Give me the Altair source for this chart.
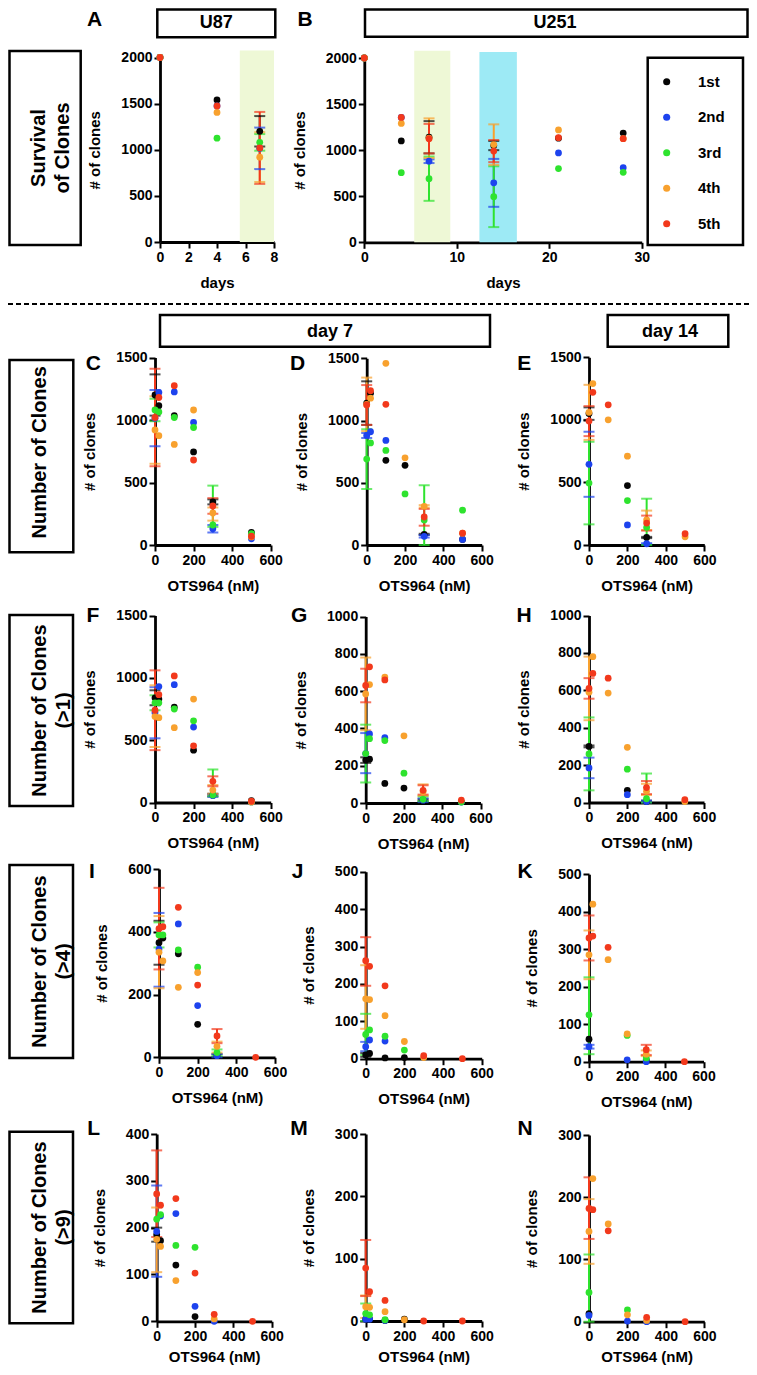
import altair as alt
import pandas as pd

W, H = 741, 1359
FONT = "Liberation Sans"

SERIES = ["1st", "2nd", "3rd", "4th", "5th"]
COLORS = ["#050505", "#1d43ee", "#2ee32e", "#f8a12e", "#f2391c"]

# ---------------- data ----------------
A_DAYS = [0, 4, 7]
A_VALS = {
    "1st": [2000, 1540, 1200],
    "2nd": [2000, 1475, 1015],
    "3rd": [2000, 1125, 1080],
    "4th": [2000, 1405, 920],
    "5th": [2000, 1475, 1020],
}
A_ERR = {
    "1st": [(7, 1035, 1365)],
    "2nd": [(7, 790, 1240)],
    "3rd": [(7, 990, 1170)],
    "4th": [(7, 650, 1190)],
    "5th": [(7, 630, 1410)],
}
A_BAND_START = [5.6]
A_BAND_END = [8.0]
A_BAND_TOP = [2075]

B_DAYS = [0, 4, 7, 14, 21, 28]
B_VALS = {
    "1st": [2000, 1100, 1140, 1050, 1130, 1185],
    "2nd": [2000, 1355, 880, 645, 970, 810],
    "3rd": [2000, 755, 690, 495, 800, 760],
    "4th": [2000, 1290, 1130, 1060, 1220, 1125],
    "5th": [2000, 1355, 1125, 990, 1135, 1125],
}
B_ERR = {
    "1st": [(7, 965, 1315), (14, 1000, 1100)],
    "2nd": [(7, 860, 900), (14, 385, 905)],
    "3rd": [(7, 450, 930), (14, 165, 825)],
    "4th": [(7, 915, 1345), (14, 840, 1280)],
    "5th": [(7, 965, 1285), (14, 870, 1110)],
}
B_BAND_START = [5.4, 12.45]
B_BAND_END = [9.3, 16.5]
B_BAND_TOP = [2080, 2065]

DOSES = [0, 20, 100, 200, 300, 500]

C_VALS = {
    "1st": [1200, 1115, 1035, 745, 345, 100],
    "2nd": [1015, 1220, 1225, 980, 130, 50],
    "3rd": [1080, 1065, 1020, 940, 160, 90],
    "4th": [920, 875, 805, 1080, 256, 65],
    "5th": [1020, 1180, 1275, 680, 312, 70],
}
C_ERR = {
    "1st": [(0, 1035, 1365), (300, 325, 365)],
    "2nd": [(0, 790, 1240), (300, 100, 160)],
    "3rd": [(0, 990, 1170), (300, 145, 475)],
    "4th": [(0, 650, 1190), (300, 195, 300)],
    "5th": [(0, 630, 1410), (300, 250, 375)],
}

D_VALS = {
    "1st": [1140, 1220, 680, 640, 85, 45],
    "2nd": [880, 910, 840, None, 70, 45],
    "3rd": [690, 820, 760, 410, 200, 280],
    "4th": [1130, 1180, 1460, 700, 310, 95],
    "5th": [1125, 1240, 1130, None, 225, 95],
}
D_ERR = {
    "1st": [(0, 965, 1315), (300, 80, 90)],
    "2nd": [(0, 860, 900), (300, 60, 80)],
    "3rd": [(0, 450, 930), (300, 0, 480)],
    "4th": [(0, 915, 1345), (300, 300, 320)],
    "5th": [(0, 965, 1285), (300, 155, 290)],
}

E_VALS = {
    "1st": [1050, None, None, 475, 60, None],
    "2nd": [645, None, None, 160, 10, None],
    "3rd": [495, None, None, 355, 140, None],
    "4th": [1060, 1290, 1000, 710, 200, 65],
    "5th": [990, 1220, 1120, None, 175, 90],
}
E_ERR = {
    "1st": [(0, 1000, 1100), (300, 55, 65)],
    "2nd": [(0, 385, 905), (300, 5, 15)],
    "3rd": [(0, 165, 825), (300, 0, 370)],
    "4th": [(0, 840, 1280), (300, 120, 275)],
    "5th": [(0, 870, 1110), (300, 115, 235)],
}

F_VALS = {
    "1st": [840, 830, 765, 420, 60, 15],
    "2nd": [720, 930, 945, 605, 55, 5],
    "3rd": [800, 800, 750, 655, 60, 5],
    "4th": [690, 680, 600, 830, 100, 5],
    "5th": [740, 865, 1015, 455, 170, 10],
}
F_ERR = {
    "1st": [(0, 780, 900), (300, 50, 70)],
    "2nd": [(0, 515, 925), (300, 45, 65)],
    "3rd": [(0, 740, 860), (300, 50, 265)],
    "4th": [(0, 445, 940), (300, 70, 140)],
    "5th": [(0, 420, 1060), (300, 130, 210)],
}

G_VALS = {
    "1st": [230, 235, 105, 80, 15, None],
    "2nd": [265, 370, 350, None, 15, 5],
    "3rd": [265, 345, 335, 160, 20, 5],
    "4th": [585, 635, 675, 360, 60, None],
    "5th": [630, 730, 660, None, 68, 15],
}
G_ERR = {
    "1st": [(0, 215, 245), (300, 10, 20)],
    "2nd": [(0, 160, 375), (300, 5, 25)],
    "3rd": [(0, 110, 420), (300, 10, 35)],
    "4th": [(0, 390, 780), (300, 40, 100)],
    "5th": [(0, 540, 720), (300, 45, 95)],
}

H_VALS = {
    "1st": [300, None, None, 65, 5, None],
    "2nd": [185, None, None, 42, 5, None],
    "3rd": [260, None, None, 178, 20, None],
    "4th": [590, 780, 585, 295, 60, 5],
    "5th": [610, 690, 665, None, 80, 15],
}
H_ERR = {
    "1st": [(0, 295, 305), (300, 0, 10)],
    "2nd": [(0, 130, 240), (300, 0, 10)],
    "3rd": [(0, 65, 455), (300, 0, 155)],
    "4th": [(0, 440, 780), (300, 40, 100)],
    "5th": [(0, 555, 665), (300, 45, 115)],
}

I_VALS = {
    "1st": [365, 380, 330, 105, 5, None],
    "2nd": [345, None, 425, 165, 5, None],
    "3rd": [390, 390, 342, 287, 15, None],
    "4th": [335, 307, 223, 270, 35, None],
    "5th": [410, 416, 478, 230, 68, 0],
}
I_ERR = {
    "1st": [(0, 295, 435), (300, 0, 10)],
    "2nd": [(0, 225, 460), (300, 0, 10)],
    "3rd": [(0, 350, 430), (300, 5, 25)],
    "4th": [(0, 220, 450), (300, 15, 50)],
    "5th": [(0, 280, 540), (300, 45, 90)],
}

J_VALS = {
    "1st": [10, 14, 2, 3, None, None],
    "2nd": [32, 50, 47, None, None, None],
    "3rd": [65, 77, 60, 23, None, None],
    "4th": [160, 158, 115, 46, 3, None],
    "5th": [262, 247, 195, None, 8, 0],
}
J_ERR = {
    "1st": [(0, 5, 15)],
    "2nd": [(0, 20, 45)],
    "3rd": [(0, 10, 120)],
    "4th": [(0, 80, 250)],
    "5th": [(0, 195, 325)],
}

K_VALS = {
    "1st": [60, None, None, None, 5, None],
    "2nd": [40, None, None, 5, 0, None],
    "3rd": [125, None, None, 70, 10, None],
    "4th": [285, 420, 272, 74, 20, None],
    "5th": [330, 335, 305, None, 32, 0],
}
K_ERR = {
    "2nd": [(0, 35, 45)],
    "3rd": [(0, 20, 225)],
    "4th": [(0, 220, 350), (300, 15, 30)],
    "5th": [(0, 270, 390), (300, 18, 45)],
}

L_VALS = {
    "1st": [185, 172, 120, 10, None, None],
    "2nd": [192, 225, 230, 32, 0, None],
    "3rd": [218, 228, 162, 158, None, None],
    "4th": [175, 160, 87, None, 5, None],
    "5th": [272, 248, 262, 103, 15, 0],
}
L_ERR = {
    "1st": [(0, 170, 200)],
    "2nd": [(0, 95, 290)],
    "4th": [(0, 105, 243)],
    "5th": [(0, 180, 365)],
}

M_VALS = {
    "1st": [3, 3, 1, 3, None, None],
    "2nd": [3, 3, 1, None, None, None],
    "3rd": [12, 10, 2, None, None, None],
    "4th": [23, 22, 15, 2, None, None],
    "5th": [85, 47, 33, None, 0, 0],
}
M_ERR = {
    "3rd": [(0, 0, 28)],
    "4th": [(0, 5, 41)],
    "5th": [(0, 40, 130)],
}

N_VALS = {
    "1st": [13, None, None, None, None, None],
    "2nd": [10, None, None, 1, 0, None],
    "3rd": [47, None, None, 19, None, None],
    "4th": [145, 230, 157, 11, 2, None],
    "5th": [182, 180, 146, None, 7, 0],
}
N_ERR = {
    "3rd": [(0, 0, 108)],
    "4th": [(0, 93, 197)],
    "5th": [(0, 133, 232)],
}

DOSE_TICKS = [0, 200, 400, 600]

# ---------------- layout (pixels, plot-area coordinates) ----------------
# panel: (x range, y range)
LAYOUT = {
    "A": ([152, 266], [234, 49.5]),
    "B": ([356.3, 633.7], [234.3, 50]),
    "C": ([147, 262.7], [537, 349.5]),
    "D": ([358.7, 473.7], [537, 350.3]),
    "E": ([581, 696.3], [537, 349.3]),
    "F": ([147, 262.7], [794.5, 607.5]),
    "G": ([357.7, 472.5], [795, 608.5]),
    "H": ([581, 696], [794.5, 607.5]),
    "I": ([151, 267], [1049.3, 861]),
    "J": ([357.7, 473.7], [1050.7, 863.7]),
    "K": ([581, 695.5], [1053.7, 866.2]),
    "L": ([148.7, 263.7], [1313.3, 1126]),
    "M": ([357.7, 473.7], [1313, 1126]),
    "N": ([581, 696.3], [1313.7, 1127]),
}
XTITLE_PAD = {"L": 6, "M": 6, "N": 6}

cscale = alt.Scale(domain=SERIES, range=COLORS)


def panel_layers(key, xvals, vals, errs, xdom, ydom, xticks, yticks, xtitle, bands=None):
    xr, yr = LAYOUT[key]
    rows = []
    for s in SERIES:
        for xv, v in zip(xvals, vals[s]):
            if v is not None:
                rows.append({"x": xv, "y": v, "series": s})
    pts = pd.DataFrame(rows)
    erows, crows = [], []
    for s in SERIES:
        for (xv, lo, hi) in errs.get(s, []):
            erows.append({"x": xv, "lo": lo, "hi": hi, "series": s})
            crows.append({"x": xv, "y": lo, "series": s})
            crows.append({"x": xv, "y": hi, "series": s})
    err = pd.DataFrame(erows)
    caps = pd.DataFrame(crows)

    def xs():
        return alt.Scale(domain=xdom, range=xr, nice=False, zero=False)

    def ys():
        return alt.Scale(domain=ydom, range=yr, nice=False, zero=False)

    layers = []
    if bands is not None:
        starts, ends, tops, col = bands
        bdf = pd.DataFrame({"x0": starts, "x1": ends, "top": tops, "y0": [0] * len(starts)})
        layers.append(
            alt.Chart(bdf).mark_rect(color=col, opacity=1).encode(
                x=alt.X("x0:Q", scale=xs(), axis=None),
                x2="x1:Q",
                y=alt.Y("y0:Q", scale=ys(), axis=None),
                y2="top:Q",
            )
        )
    layers.append(
        alt.Chart(err).mark_rule(strokeWidth=2).encode(
            x=alt.X("x:Q", scale=xs(), axis=None),
            y=alt.Y("lo:Q", scale=ys(), axis=None),
            y2="hi:Q",
            color=alt.Color("series:N", scale=cscale, legend=None),
        )
    )
    layers.append(
        alt.Chart(caps).mark_tick(orient="horizontal", size=11, thickness=2).encode(
            x=alt.X("x:Q", scale=xs(), axis=None),
            y=alt.Y("y:Q", scale=ys(), axis=None),
            color=alt.Color("series:N", scale=cscale, legend=None),
        )
    )
    layers.append(
        alt.Chart(pts).mark_circle(size=46, opacity=1).encode(
            x=alt.X(
                "x:Q",
                scale=xs(),
                axis=alt.Axis(orient="bottom", offset=yr[0] - H, values=xticks,
                              format="d", title=xtitle,
                              titlePadding=XTITLE_PAD.get(key, 11)),
            ),
            y=alt.Y(
                "y:Q",
                scale=ys(),
                axis=alt.Axis(orient="left", offset=-xr[0], values=yticks,
                              format="d", title="# of clones", titlePadding=18),
            ),
            color=alt.Color("series:N", scale=cscale, legend=None),
        )
    )
    return layers


layers = []
layers += panel_layers("A", A_DAYS, A_VALS, A_ERR, [0, 8], [0, 2000], [0, 2, 4, 6, 8],
                       [0, 500, 1000, 1500, 2000], "days",
                       (A_BAND_START, A_BAND_END, A_BAND_TOP, "#eef8d6"))
layers.insert(0, alt.Chart(pd.DataFrame({"x0": B_BAND_START[1:], "x1": B_BAND_END[1:],
                                         "top": B_BAND_TOP[1:], "y0": [0]}))
              .mark_rect(color="#9deaf5", opacity=1).encode(
                  x=alt.X("x0:Q", scale=alt.Scale(domain=[0, 30], range=LAYOUT["B"][0], nice=False, zero=False), axis=None),
                  x2="x1:Q",
                  y=alt.Y("y0:Q", scale=alt.Scale(domain=[0, 2000], range=LAYOUT["B"][1], nice=False, zero=False), axis=None),
                  y2="top:Q"))
layers += panel_layers("B", B_DAYS, B_VALS, B_ERR, [0, 30], [0, 2000], [0, 10, 20, 30],
                       [0, 500, 1000, 1500, 2000], "days",
                       (B_BAND_START[:1], B_BAND_END[:1], B_BAND_TOP[:1], "#eef8d6"))

specs = [
    ("C", C_VALS, C_ERR, 1500, [0, 500, 1000, 1500]),
    ("D", D_VALS, D_ERR, 1500, [0, 500, 1000, 1500]),
    ("E", E_VALS, E_ERR, 1500, [0, 500, 1000, 1500]),
    ("F", F_VALS, F_ERR, 1500, [0, 500, 1000, 1500]),
    ("G", G_VALS, G_ERR, 1000, [0, 200, 400, 600, 800, 1000]),
    ("H", H_VALS, H_ERR, 1000, [0, 200, 400, 600, 800, 1000]),
    ("I", I_VALS, I_ERR, 600, [0, 200, 400, 600]),
    ("J", J_VALS, J_ERR, 500, [0, 100, 200, 300, 400, 500]),
    ("K", K_VALS, K_ERR, 500, [0, 100, 200, 300, 400, 500]),
    ("L", L_VALS, L_ERR, 400, [0, 100, 200, 300, 400]),
    ("M", M_VALS, M_ERR, 300, [0, 100, 200, 300]),
    ("N", N_VALS, N_ERR, 300, [0, 100, 200, 300]),
]
for key, vals, errs, ymax, yt in specs:
    layers += panel_layers(key, DOSES, vals, errs, [0, 600], [0, ymax], DOSE_TICKS, yt, "OTS964 (nM)")

# ---------------- decorations ----------------
one = pd.DataFrame({"a": [0]})

BOXES = pd.DataFrame({
    "x0": [1.5, 1.5, 1.5, 1.5, 1.5, 149.3, 357, 152, 599.7, 639.7],
    "x1": [72.7, 65.3, 65, 65, 65, 267.3, 739.5, 482, 720.3, 735],
    "y0": [43, 352, 607, 857, 1123.7, 1.5, 1.5, 307, 307, 49.7],
    "y1": [237, 544.3, 798, 1050, 1315.3, 29.3, 28.7, 338.7, 338.7, 237],
})
layers.append(
    alt.Chart(BOXES).mark_rect(fill="white", fillOpacity=0, stroke="black", strokeWidth=2.5).encode(
        x=alt.X("x0:Q", scale=None, axis=None), x2="x1:Q",
        y=alt.Y("y0:Q", scale=None, axis=None), y2="y1:Q")
)

layers.append(
    alt.Chart(one).mark_rule(strokeDash=[5, 3], strokeWidth=2, color="black").encode(
        x=alt.value(0), x2=alt.value(W), y=alt.value(296))
)

LETTERS = pd.DataFrame({
    "t": list("ABCDEFGHIJKLMN"),
    "x": [86.5, 297, 85.3, 289.5, 516.2, 85, 291.2, 516.2, 84, 289.5, 517, 85.7, 291, 517],
    "y": [12, 12, 355.5, 355.5, 355.5, 607.5, 607.5, 607.5, 864, 864, 864, 1121, 1121, 1121],
})
layers.append(
    alt.Chart(LETTERS).mark_text(font=FONT, fontSize=21, fontWeight="bold", align="center",
                                 baseline="middle", color="black").encode(
        x=alt.X("x:Q", scale=None, axis=None), y=alt.Y("y:Q", scale=None, axis=None), text="t:N")
)

HEADERS = pd.DataFrame({
    "t": ["U87", "U251", "day 7", "day 14"],
    "x": [208.3, 547, 322, 662],
    "y": [15, 15, 323.7, 323.7],
})
layers.append(
    alt.Chart(HEADERS).mark_text(font=FONT, fontSize=18, fontWeight="bold", align="center",
                                 baseline="middle", color="black").encode(
        x=alt.X("x:Q", scale=None, axis=None), y=alt.Y("y:Q", scale=None, axis=None), text="t:N")
)

ROWLABELS = pd.DataFrame({
    "t": ["Survival\nof Clones", "Number of Clones", "Number of Clones\n(>1)",
          "Number of Clones\n(>4)", "Number of Clones\n(>9)"],
    "x": [31.2, 32, 32, 32, 32],
    "y": [140, 444.3, 702.5, 953.5, 1219.5],
})
layers.append(
    alt.Chart(ROWLABELS).mark_text(font=FONT, fontSize=20, fontWeight="bold", align="center",
                                   baseline="middle", angle=270, lineBreak="\n", lineHeight=24,
                                   color="black").encode(
        x=alt.X("x:Q", scale=None, axis=None), y=alt.Y("y:Q", scale=None, axis=None), text="t:N")
)

# legend (inside panel B)
leg = pd.DataFrame({"series": SERIES})
leg_y = alt.Scale(type="point", domain=SERIES, range=[73.7, 215.7], padding=0)
layers.append(
    alt.Chart(leg).mark_circle(size=50, opacity=1).encode(
        x=alt.value(658.7),
        y=alt.Y("series:N", scale=leg_y, axis=None),
        color=alt.Color("series:N", scale=cscale, legend=None))
)
layers.append(
    alt.Chart(leg).mark_text(font=FONT, fontSize=15, fontWeight="bold", align="left",
                             baseline="middle", color="black").encode(
        x=alt.value(690),
        y=alt.Y("series:N", scale=leg_y, axis=None),
        text="series:N")
)

chart = (
    alt.layer(*layers)
    .resolve_scale(x="independent", y="independent", color="independent")
    .properties(width=W, height=H, padding=0, autosize=alt.AutoSizeParams(type="none"),
                background="white")
    .configure_view(stroke=None)
    .configure_axis(
        grid=False, domainColor="black", domainWidth=2.8, tickColor="black", tickWidth=2,
        tickSize=6, labelFont=FONT, labelFontSize=14, labelFontWeight="bold", labelColor="black",
        labelPadding=2, labelFlush=False, labelOverlap=False, titleFont=FONT, titleFontSize=15,
        titleFontWeight="bold", titleColor="black", zindex=0,
    )
    .configure_axisBottom(titleFontSize=15, labelPadding=2)
)

chart.save("out.html", embed_options={"renderer": "svg", "actions": False})
